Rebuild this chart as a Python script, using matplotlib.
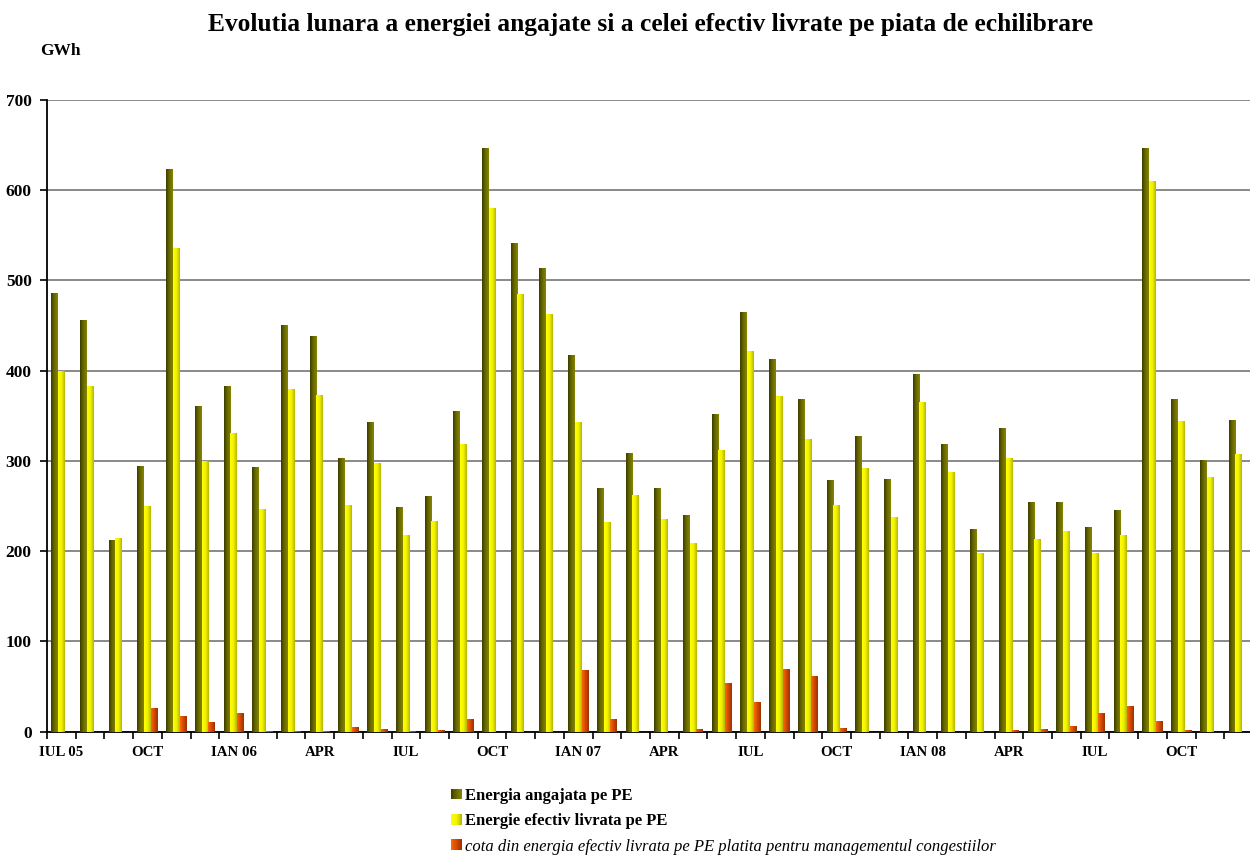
import numpy as np
import matplotlib.pyplot as plt
from matplotlib.colors import LinearSegmentedColormap
from matplotlib.patches import Rectangle, Patch
from matplotlib.legend_handler import HandlerBase

plt.rcParams['font.family'] = ['Liberation Serif', 'DejaVu Serif']

# date lunare, IUL 05 - DEC 08 (GWh)
luni = ['IUL 05', 'AUG', 'SEP', 'OCT', 'NOI', 'DEC',
        'IAN 06', 'FEB', 'MAR', 'APR', 'MAI', 'IUN',
        'IUL', 'AUG', 'SEP', 'OCT', 'NOI', 'DEC',
        'IAN 07', 'FEB', 'MAR', 'APR', 'MAI', 'IUN',
        'IUL', 'AUG', 'SEP', 'OCT', 'NOI', 'DEC',
        'IAN 08', 'FEB', 'MAR', 'APR', 'MAI', 'IUN',
        'IUL', 'AUG', 'SEP', 'OCT', 'NOI', 'DEC']

angajata = [486, 456, 212, 294, 623, 361, 383, 293, 450, 438, 303, 343,
            249, 261, 355, 647, 541, 514, 417, 270, 309, 270, 240, 352,
            465, 413, 369, 279, 328, 280, 396, 319, 224, 336, 254, 254,
            227, 246, 647, 368, 301, 345]

livrata = [400, 383, 214, 250, 536, 300, 331, 247, 380, 373, 251, 297,
           218, 233, 319, 580, 485, 463, 343, 232, 262, 236, 209, 312,
           422, 372, 324, 251, 292, 238, 365, 288, 198, 303, 213, 222,
           198, 218, 610, 344, 282, 307]

congestii = [0, 0, 0, 26.5, 17.5, 10.5, 20.5, 0.5, 0.5, 0.3, 5, 3,
             1, 2, 14, 0, 0, 0, 68, 14, 0, 0, 3, 54,
             33, 69.5, 61.5, 4, 0, 0, 0, 0, 0, 2, 3, 6,
             20.5, 28.5, 12, 2, 0, 0]

serii = ['Energia angajata pe PE',
         'Energie efectiv livrata pe PE',
         'cota din energia efectiv livrata pe PE platita pentru managementul congestiilor']

# gradient stanga -> dreapta, ca in Excel
culori = [['#3c3c00', '#6a6a00', '#858500'],
          ['#ffff00', '#f2f200', '#b5b500'],
          ['#ff6a00', '#d04800', '#993300']]


class GradientHandler(HandlerBase):
    def __init__(self, cols):
        super().__init__()
        self.cmap = LinearSegmentedColormap.from_list('g', cols)

    def create_artists(self, legend, orig_handle, xdescent, ydescent,
                       width, height, fontsize, trans):
        n = 14
        arts = []
        for k in range(n):
            r = Rectangle((-xdescent + width * k / n, -ydescent),
                          width / n + 0.2, height,
                          facecolor=self.cmap((k + 0.5) / n),
                          edgecolor='none', transform=trans)
            arts.append(r)
        return arts


fig = plt.figure(figsize=(12.5, 8.57), dpi=100)
W, H = 1250., 857.
ax = fig.add_axes([47 / W, (857 - 731.7) / H, 1206 / W, (731.7 - 100) / H])

x = np.arange(len(luni))
w = 0.233
grad = np.linspace(0, 1, 64).reshape(1, -1)
for k, (vals, cols) in enumerate(zip([angajata, livrata, congestii], culori)):
    cmap = LinearSegmentedColormap.from_list('c%d' % k, cols)
    bars = ax.bar(x + (k - 1) * w, vals, width=w, color=cols[1],
                  linewidth=0, zorder=2)
    for b in bars:
        h = b.get_height()
        if h <= 0:
            continue
        x0 = b.get_x()
        ax.imshow(grad, extent=(x0, x0 + b.get_width(), 0, h), cmap=cmap,
                  aspect='auto', interpolation='bilinear', zorder=3)

ax.set_xlim(-0.5, len(luni) - 0.5)
ax.set_ylim(0, 700)
ax.set_yticks(np.arange(0, 701, 100))
ax.yaxis.grid(True, color='#808080', linewidth=1.3)
ax.set_axisbelow(True)

ax.set_xticks(x[::3])
ax.set_xticklabels(luni[::3])
ax.set_xticks(np.arange(-0.5, len(luni), 1), minor=True)
ax.tick_params(axis='x', which='major', length=0, pad=10)
ax.tick_params(axis='x', which='minor', length=5, width=1.2, direction='out')
ax.tick_params(axis='y', length=5, width=1.2, direction='out', pad=6)
for t in ax.get_xticklabels():
    t.set_fontweight('bold')
    t.set_fontsize(10.7)
for t in ax.get_yticklabels():
    t.set_fontweight('bold')
    t.set_fontsize(12.5)

for s in ['top', 'right']:
    ax.spines[s].set_visible(False)
ax.spines['left'].set_linewidth(1.3)
ax.spines['bottom'].set_linewidth(1.3)

fig.text(651 / W, 1 - 24 / H,
         'Evolutia lunara a energiei angajate si a celei efectiv livrate pe piata de echilibrare',
         ha='center', va='center', fontsize=18.4, fontweight='bold')
fig.text(40 / W, 1 - 51 / H, 'GWh', ha='left', va='center',
         fontsize=12.5, fontweight='bold')

handles = [Patch(label=s) for s in serii]
hmap = {h: GradientHandler(c) for h, c in zip(handles, culori)}
leg = fig.legend(handles=handles, labels=serii, handler_map=hmap,
                 loc='upper left', bbox_to_anchor=(451 / W, 1 - 788 / H),
                 frameon=False, fontsize=12, handlelength=0.66,
                 handleheight=0.6, handletextpad=0.2, labelspacing=0.56,
                 borderpad=0, borderaxespad=0)
for i, t in enumerate(leg.get_texts()):
    if i < 2:
        t.set_fontweight('bold')
    else:
        t.set_fontstyle('italic')

fig.savefig('out.png', dpi=100)
